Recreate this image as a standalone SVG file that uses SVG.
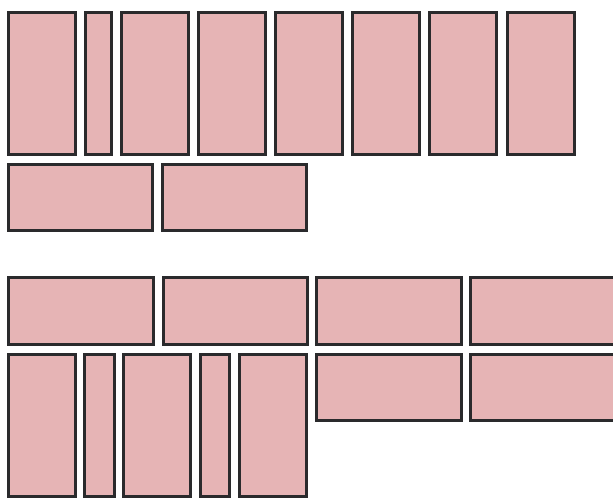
<svg xmlns="http://www.w3.org/2000/svg" width="613" height="499" viewBox="0 0 613 499">
<style>
.b{fill:#e6b4b5;stroke:#2a2a2c;stroke-width:3}
</style>
<rect width="613" height="499" fill="#ffffff"/>
<g id="row1">
<rect id="r1a" class="b" x="8.5" y="12.5" width="67" height="142"/>
<rect id="r1b" class="b" x="85.5" y="12.5" width="26" height="142"/>
<rect id="r1c" class="b" x="121.5" y="12.5" width="67" height="142"/>
<rect id="r1d" class="b" x="198.5" y="12.5" width="67" height="142"/>
<rect id="r1e" class="b" x="275.5" y="12.5" width="67" height="142"/>
<rect id="r1f" class="b" x="352.5" y="12.5" width="67" height="142"/>
<rect id="r1g" class="b" x="429.5" y="12.5" width="67" height="142"/>
<rect id="r1h" class="b" x="507.5" y="12.5" width="67" height="142"/>
</g>
<g id="row2">
<rect id="r2a" class="b" x="8.5" y="164.5" width="144" height="66"/>
<rect id="r2b" class="b" x="162.5" y="164.5" width="144" height="66"/>
</g>
<g id="row3">
<rect id="r3a" class="b" x="8.5" y="277.5" width="145" height="67"/>
<rect id="r3b" class="b" x="163.5" y="277.5" width="144" height="67"/>
<rect id="r3c" class="b" x="316.5" y="277.5" width="145" height="67"/>
<rect id="r3d" class="b" x="470.5" y="277.5" width="145" height="67"/>
</g>
<g id="row4">
<rect id="r4a" class="b" x="8.5" y="354.5" width="67" height="142"/>
<rect id="r4b" class="b" x="84.5" y="354.5" width="30" height="142"/>
<rect id="r4c" class="b" x="123.5" y="354.5" width="67" height="142"/>
<rect id="r4d" class="b" x="200.5" y="354.5" width="29" height="142"/>
<rect id="r4e" class="b" x="239.5" y="354.5" width="67" height="142"/>
<rect id="r4f" class="b" x="316.5" y="354.5" width="145" height="66"/>
<rect id="r4g" class="b" x="470.5" y="354.5" width="145" height="66"/>
</g>
<g id="connectors"/>
</svg>
